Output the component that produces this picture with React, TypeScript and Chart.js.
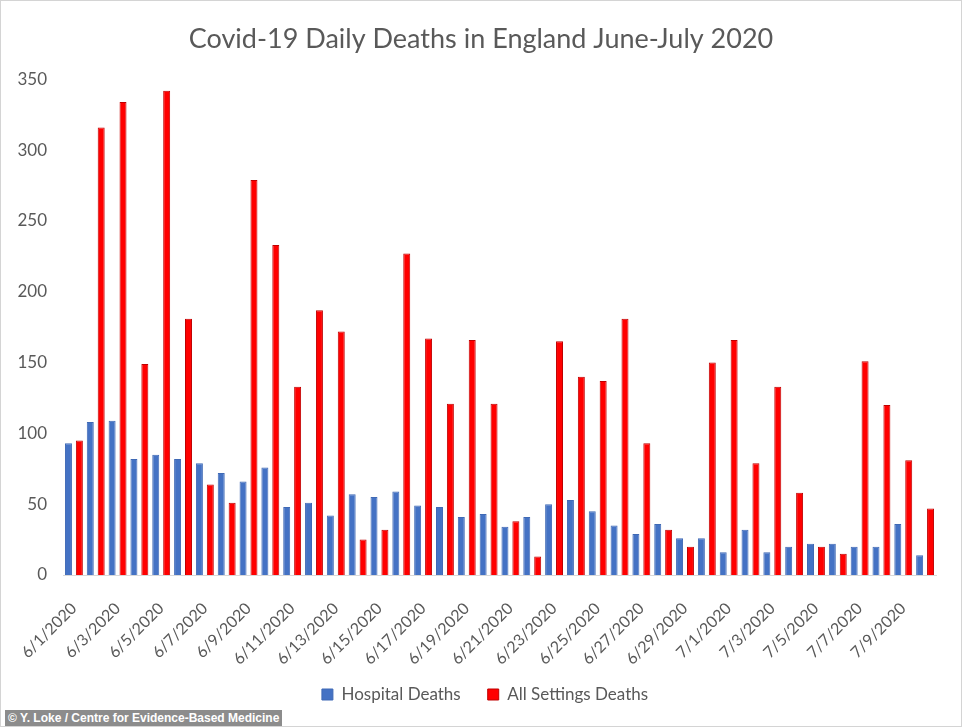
import React, { useEffect, useRef } from "react";
import { Chart, registerables } from "chart.js";

Chart.register(...registerables);

const dates: string[] = [
  "6/1/2020", "6/2/2020", "6/3/2020", "6/4/2020", "6/5/2020", "6/6/2020", "6/7/2020", "6/8/2020",
  "6/9/2020", "6/10/2020", "6/11/2020", "6/12/2020", "6/13/2020", "6/14/2020", "6/15/2020", "6/16/2020",
  "6/17/2020", "6/18/2020", "6/19/2020", "6/20/2020", "6/21/2020", "6/22/2020", "6/23/2020", "6/24/2020",
  "6/25/2020", "6/26/2020", "6/27/2020", "6/28/2020", "6/29/2020", "6/30/2020", "7/1/2020", "7/2/2020",
  "7/3/2020", "7/4/2020", "7/5/2020", "7/6/2020", "7/7/2020", "7/8/2020", "7/9/2020", "7/10/2020",
];

const hospitalDeaths: number[] = [
  93, 108, 109, 82, 85, 82, 79, 72, 66, 76, 48, 51, 42, 57, 55, 59, 49, 48, 41, 43,
  34, 41, 50, 53, 45, 35, 29, 36, 26, 26, 16, 32, 16, 20, 22, 22, 20, 20, 36, 14,
];

const allSettingsDeaths: number[] = [
  95, 316, 334, 149, 342, 181, 64, 51, 279, 233, 133, 187, 172, 25, 32, 227, 167, 121, 166, 121,
  38, 13, 165, 140, 137, 181, 93, 32, 20, 150, 166, 79, 133, 58, 20, 15, 151, 120, 81, 47,
];

const seriesNames: string[] = ["Hospital Deaths", "All Settings Deaths"];
const titleText = "Covid-19 Daily Deaths in England June-July 2020";
const creditText = "\u00A9 Y. Loke / Centre for Evidence-Based Medicine";

const FONT = "Lato, 'Open Sans', sans-serif";
const TEXT = "#595959";
const PLOT_LEFT = 62;

const recenterPlugin = {
  id: "recenter",
  afterLayout(chart: any) {
    if (chart.titleBlock) {
      chart.titleBlock.left = 0;
      chart.titleBlock.right = chart.width;
    }
    if (chart.legend) {
      chart.legend.left = 8;
      chart.legend.right = chart.width;
    }
    const xs = chart.scales && chart.scales.x;
    const ys = chart.scales && chart.scales.y;
    const ca = chart.chartArea;
    if (xs && ys && ca) {
      const dx = PLOT_LEFT - ca.left;
      ca.left = PLOT_LEFT;
      ca.width = ca.right - ca.left;
      xs.left = PLOT_LEFT;
      xs.width = xs.right - xs.left;
      xs.configure();
      ys.left += dx;
      ys.right += dx;
      // let the rotated tick labels run a little past the axis box without being clipped
      xs.bottom = xs.bottom + 20;
    }
  },
};

export default function App() {
  const ref = useRef<HTMLCanvasElement | null>(null);

  useEffect(() => {
    if (!ref.current) return;
    const chart = new Chart(ref.current, {
      type: "bar",
      data: {
        labels: dates,
        datasets: [
          {
            label: seriesNames[0],
            data: hospitalDeaths,
            backgroundColor: "#4472C4",
            borderColor: "#3F69B5",
            borderWidth: 1,
            barPercentage: 0.64,
            categoryPercentage: 1,
          },
          {
            label: seriesNames[1],
            data: allSettingsDeaths,
            backgroundColor: "#FF0000",
            borderColor: "#C00000",
            borderWidth: 1,
            barPercentage: 0.64,
            categoryPercentage: 1,
          },
        ],
      },
      plugins: [recenterPlugin],
      options: {
        responsive: false,
        animation: false,
        layout: { padding: { top: 8, left: 17, right: 25, bottom: 13 } },
        plugins: {
          title: {
            display: true,
            text: titleText,
            color: TEXT,
            font: { family: FONT, size: 27, weight: "normal" },
            padding: { top: 14, bottom: 24 },
          },
          legend: {
            display: true,
            position: "bottom",
            labels: {
              color: TEXT,
              font: { family: FONT, size: 17 },
              boxWidth: 11,
              boxHeight: 11,
              padding: 27,
            },
          },
          tooltip: { enabled: false },
        },
        scales: {
          x: {
            grid: { display: false, drawTicks: true, tickLength: 20 },
            border: { display: true, color: "#D9D9D9", width: 1 },
            afterFit: (s: any) => {
              s.height = 84;
            },
            ticks: {
              color: TEXT,
              font: { family: FONT, size: 16 },
              autoSkip: false,
              maxRotation: 45,
              minRotation: 45,
              padding: 4,
              callback: function (_v: any, i: number) {
                return i % 2 === 0 ? dates[i] : "";
              },
            },
          },
          y: {
            min: 0,
            max: 350,
            grid: { display: false, drawTicks: false },
            border: { display: false },
            ticks: {
              stepSize: 50,
              color: TEXT,
              font: { family: FONT, size: 17 },
              padding: 16,
            },
          },
        },
      },
    });
    return () => chart.destroy();
  }, []);

  return (
    <div
      style={{
        position: "absolute",
        left: 0,
        top: 0,
        width: 962,
        height: 727,
        boxSizing: "border-box",
        border: "1px solid #D4D4D4",
        background: "#FFFFFF",
        overflow: "hidden",
      }}
    >
      <canvas ref={ref} width={960} height={725} style={{ display: "block", width: 960, height: 725 }} />
      <div
        style={{
          position: "absolute",
          left: 4,
          bottom: 0,
          height: 16,
          padding: "0 3px",
          background: "#8C8C8C",
          color: "#FFFFFF",
          fontFamily: "'Liberation Sans', Arial, sans-serif",
          fontWeight: "bold",
          fontSize: 12,
          lineHeight: "16px",
          whiteSpace: "nowrap",
        }}
      >
        {creditText}
      </div>
    </div>
  );
}
